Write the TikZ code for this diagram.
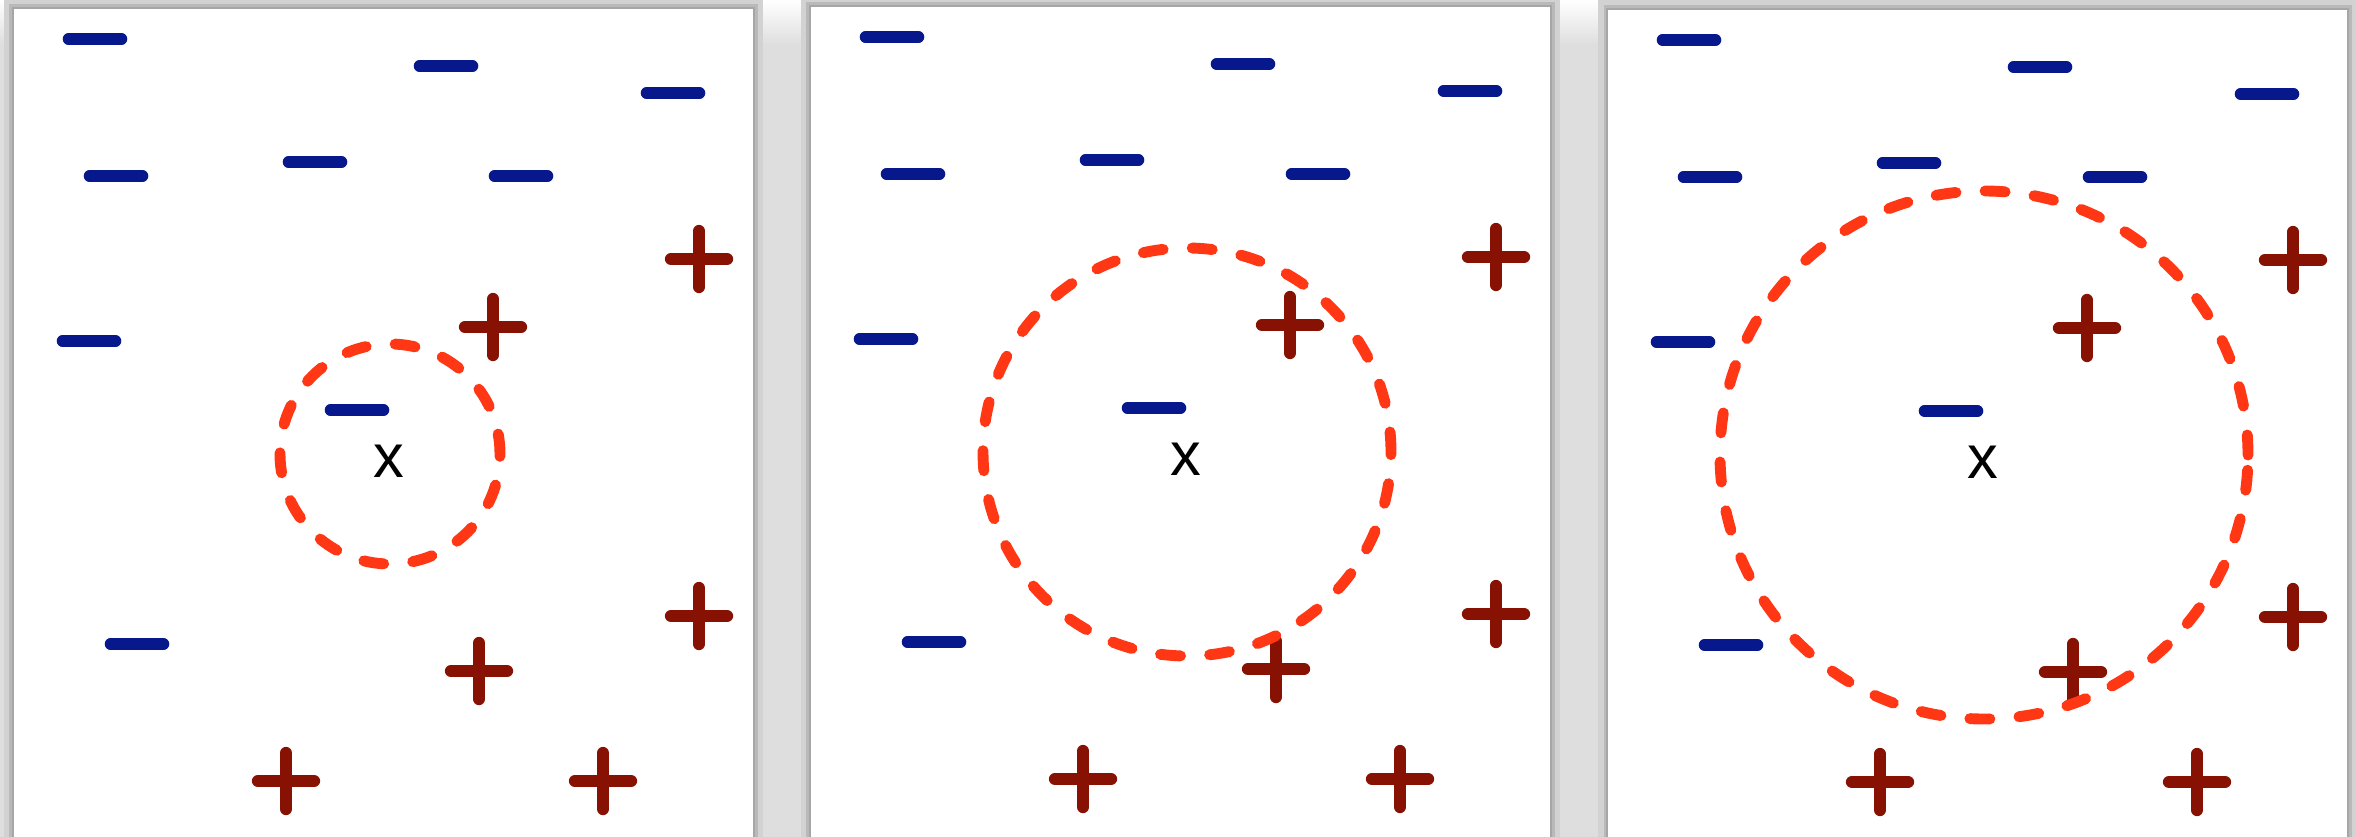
\documentclass[tikz,border=0pt]{standalone}
\usepackage{fontspec}
\setmainfont{Liberation Sans}
\definecolor{negblue}{RGB}{6,24,140}
\definecolor{posred}{RGB}{135,18,4}
\definecolor{ringred}{RGB}{255,55,20}
\definecolor{shadowgray}{RGB}{222,222,222}

\begin{document}
\begin{tikzpicture}[
	negsign/.style={draw=negblue, line width=3.3pt, line cap=round},
	possign/.style={draw=posred, line width=3.5pt, line cap=round},
	knnring/.style={draw=ringred, line width=3.1pt, line cap=round, dash pattern=on 5.7pt off 8.3pt},
	panel/.style={fill=white, draw=gray!70, line width=0.6pt}]
	% Canvas and shadow
	\useasboundingbox (0,0) rectangle (23.55,-8.37);
	\clip (0,0) rectangle (23.55,-8.37);
	\fill[shadowgray] (0,0) rectangle (23.55,-8.37);
	\shade[top color=white, bottom color=shadowgray] (0,0) rectangle (23.55,-0.45);
	
	\foreach \dx/\dy/\r [count=\i] in {0/0/1.10, 7.97/0.02/2.04, 15.94/-0.01/2.64} {
		\begin{scope}[shift={(\dx,\dy)}]
			% Panel
			\draw[gray!35, line width=5pt] (0.13,-0.08) rectangle (7.54,-8.6);
			\draw[gray!55, line width=2pt] (0.13,-0.08) rectangle (7.54,-8.6);
			\draw[panel] (0.13,-0.08) rectangle (7.54,-8.6);
			% Negative samples
			\foreach \p in {(0.95,-0.39), (4.46,-0.66), (6.73,-0.93), (1.16,-1.76), (3.15,-1.62), (5.21,-1.76), (0.89,-3.41), (3.57,-4.10), (1.37,-6.44)}
				\draw[negsign] \p ++(-0.265,0) -- ++(0.53,0);
			% Positive samples
			\foreach \p in {(6.99,-2.59), (4.93,-3.27), (6.99,-6.16), (4.79,-6.71), (2.86,-7.81), (6.03,-7.81)}
				\draw[possign] \p ++(-0.28,0) -- ++(0.56,0) \p ++(0,-0.28) -- ++(0,0.56);
			% Query point and its neighbourhood
			\node[font=\fontsize{17.5}{20}\selectfont, inner sep=0pt] (query\i) at (3.89,-4.61) {x};
			\draw[knnring] (3.90,-4.54) circle (\r);
		\end{scope}
	}
\end{tikzpicture}
\end{document}
